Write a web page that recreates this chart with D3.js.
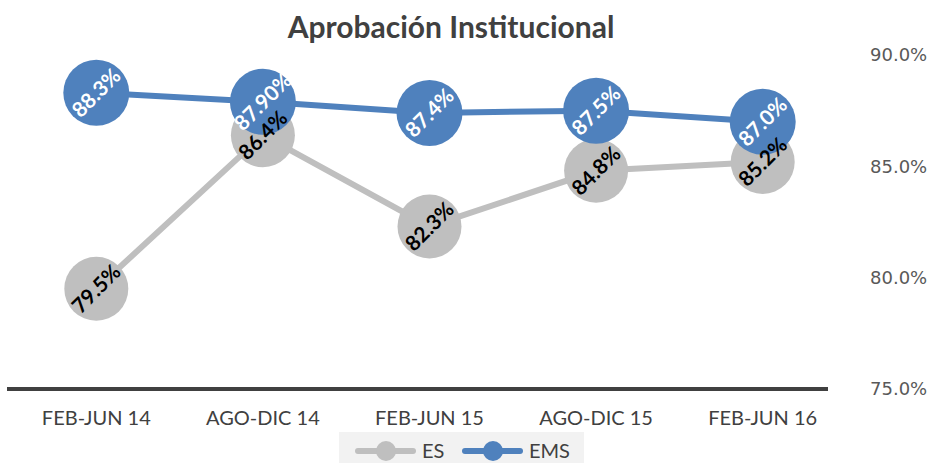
<!DOCTYPE html>
<html>
<head>
<meta charset="utf-8">
<script src="https://cdn.jsdelivr.net/npm/d3@7"></script>
<style>
  body { margin: 0; background: #fff; }
  text { font-family: Lato, "Liberation Sans", sans-serif; }
</style>
</head>
<body>
<script>
// chart data
var categories = ["FEB-JUN 14", "AGO-DIC 14", "FEB-JUN 15", "AGO-DIC 15", "FEB-JUN 16"];
var esValues = [79.5, 86.4, 82.3, 84.8, 85.2];
var emsValues = [88.3, 87.9, 87.4, 87.5, 87.0];
var esLabels = ["79.5%", "86.4%", "82.3%", "84.8%", "85.2%"];
var emsLabels = ["88.3%", "87.90%", "87.4%", "87.5%", "87.0%"];
var yTicks = [75, 80, 85, 90];

var width = 932, height = 463;

var svg = d3.select("body").append("svg")
    .attr("width", width)
    .attr("height", height);

// scales
var x = d3.scaleBand().domain(categories).range([13, 846]);
var y = d3.scaleLinear().domain([75, 90]).range([389, 55]);

// title
svg.append("text")
    .attr("x", 451).attr("y", 38)
    .attr("text-anchor", "middle")
    .style("font-size", "30px")
    .style("font-weight", "bold")
    .style("fill", "#404040")
    .text("Aprobación Institucional");

// right axis
var yAxis = svg.append("g")
    .attr("transform", "translate(867,0)")
    .call(d3.axisRight(y).tickValues(yTicks).tickSize(0).tickFormat(function(d) { return d3.format(".1f")(d) + "%"; }));
yAxis.select(".domain").remove();
yAxis.selectAll("text")
    .style("font-family", "'DejaVu Sans', Verdana, sans-serif")
    .style("font-size", "18px")
    .style("fill", "#595959");

// bottom axis line
svg.append("line")
    .attr("x1", 7).attr("x2", 828)
    .attr("y1", y(75)).attr("y2", y(75))
    .attr("stroke", "#404040")
    .attr("stroke-width", 4);

// category labels
var xAxis = svg.append("g")
    .attr("transform", "translate(0,408)")
    .call(d3.axisBottom(x).tickSize(0));
xAxis.select(".domain").remove();
xAxis.selectAll("text")
    .style("font-size", "20px")
    .style("fill", "#404040");

var line = d3.line()
    .x(function(d, i) { return x(categories[i]) + x.bandwidth() / 2; })
    .y(function(d) { return y(d); });

function drawSeries(values, color, r) {
  svg.append("path")
      .datum(values)
      .attr("d", line)
      .attr("fill", "none")
      .attr("stroke", color)
      .attr("stroke-width", 6);
  svg.append("g").selectAll("circle")
      .data(values)
      .enter().append("circle")
      .attr("cx", function(d, i) { return x(categories[i]) + x.bandwidth() / 2; })
      .attr("cy", function(d) { return y(d); })
      .attr("r", r)
      .attr("fill", color);
}

function drawLabels(values, labels, textColor) {
  svg.append("g").selectAll("text")
      .data(values)
      .enter().append("text")
      .attr("transform", function(d, i) {
        return "translate(" + (x(categories[i]) + x.bandwidth() / 2) + "," + y(d) + ") rotate(-45)";
      })
      .attr("text-anchor", "middle")
      .attr("dy", "0.35em")
      .style("font-size", "21px")
      .style("font-weight", "bold")
      .style("fill", textColor)
      .text(function(d, i) { return labels[i]; });
}

drawSeries(esValues, "#bfbfbf", 32);
drawSeries(emsValues, "#4f81bd", 33);
drawLabels(emsValues, emsLabels, "#fff");
drawLabels(esValues, esLabels, "#000");

// legend
var legend = svg.append("g");
legend.append("rect")
    .attr("x", 339).attr("y", 432)
    .attr("width", 245).attr("height", 31)
    .attr("fill", "#f2f2f2");
var legendItems = [
  { name: "ES", color: "#bfbfbf", x: 358 },
  { name: "EMS", color: "#4f81bd", x: 465 }
];
legendItems.forEach(function(it) {
  legend.append("line")
      .attr("x1", it.x).attr("x2", it.x + 55)
      .attr("y1", 451).attr("y2", 451)
      .attr("stroke", it.color)
      .attr("stroke-width", 6)
      .attr("stroke-linecap", "round");
  legend.append("circle")
      .attr("cx", it.x + 28).attr("cy", 451)
      .attr("r", 10)
      .attr("fill", it.color);
  legend.append("text")
      .attr("x", it.x + 64).attr("y", 451)
      .attr("dy", "0.35em")
      .style("font-size", "20px")
      .style("fill", "#404040")
      .text(it.name);
});
</script>
</body>
</html>
